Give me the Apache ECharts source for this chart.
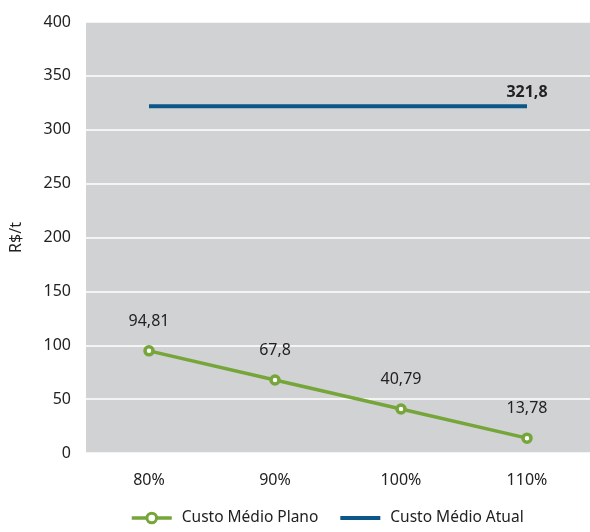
<!DOCTYPE html>
<html>
<head>
<meta charset="utf-8">
<script src="https://cdn.jsdelivr.net/npm/echarts@6/dist/echarts.min.js"></script>
<style>
  html, body { margin: 0; padding: 0; background: #fff; }
  #chart { width: 590px; height: 532px; }
</style>
</head>
<body>
<div id="chart"></div>
<script>
// Occupancy levels on the horizontal axis
const categories = ['80%', '90%', '100%', '110%'];
// Average cost under the plan (R$/t)
const custoPlano = [94.81, 67.8, 40.79, 13.78];
// Current average cost (R$/t), constant across levels
const custoAtual = [321.8, 321.8, 321.8, 321.8];
// Value axis range
const yMin = 0, yMax = 400, yStep = 50;

const fmt = v => String(v).replace('.', ',');
const FONT = 'Noto Sans';
const GREEN = '#76a53a';
const BLUE = '#0c5787';
const TEXT = '#222';

const chart = echarts.init(document.getElementById('chart'));
chart.setOption({
  animation: false,
  textStyle: { fontFamily: FONT },
  grid: {
    left: 86, right: -4, top: 22, bottom: 79,
    show: true, backgroundColor: '#d1d2d4', borderWidth: 0
  },
  legend: {
    bottom: 1, left: 125, itemGap: 20, itemWidth: 40, itemHeight: 12,
    textStyle: { fontSize: 15.5, color: TEXT, fontFamily: FONT, padding: [0, 0, 0, 5] },
    data: [
      {
        name: 'Custo Médio Plano',
        lineStyle: { width: 3.5 },
        itemStyle: { color: '#ffffff', borderColor: GREEN, borderWidth: 3 }
      },
      {
        name: 'Custo Médio Atual',
        lineStyle: { width: 4 },
        itemStyle: { opacity: 0 }
      }
    ]
  },
  xAxis: {
    type: 'category',
    data: categories,
    axisLine: { show: false },
    axisTick: { show: false },
    axisLabel: { fontSize: 16, color: TEXT, margin: 19 }
  },
  yAxis: {
    type: 'value',
    min: yMin, max: yMax, interval: yStep,
    name: 'R$/t',
    nameLocation: 'middle',
    nameGap: 62,
    nameTextStyle: { fontSize: 16, color: TEXT },
    axisLine: { show: false },
    axisTick: { show: false },
    axisLabel: { fontSize: 16, color: TEXT, margin: 15 },
    splitLine: { lineStyle: { color: '#ffffff', width: 1.5 } }
  },
  series: [
    {
      name: 'Custo Médio Plano',
      type: 'line',
      data: custoPlano,
      symbol: 'circle',
      symbolSize: 8,
      lineStyle: { color: GREEN, width: 3.5 },
      itemStyle: { color: '#ffffff', borderColor: GREEN, borderWidth: 3.5 },
      label: {
        show: true, position: 'top', distance: 16,
        fontSize: 16, color: TEXT,
        formatter: p => fmt(p.value)
      },
      z: 3
    },
    {
      name: 'Custo Médio Atual',
      type: 'line',
      data: custoAtual,
      symbol: 'none',
      lineStyle: { color: BLUE, width: 4 },
      itemStyle: { color: BLUE },
      markPoint: {
        symbol: 'circle', symbolSize: 0,
        data: [{ coord: [categories.length - 1, custoAtual[custoAtual.length - 1]], value: custoAtual[custoAtual.length - 1] }],
        label: {
          show: true, position: 'top', distance: 6,
          fontSize: 16, fontWeight: 'bold', color: TEXT,
          formatter: p => fmt(p.value)
        }
      }
    }
  ]
});
</script>
</body>
</html>
